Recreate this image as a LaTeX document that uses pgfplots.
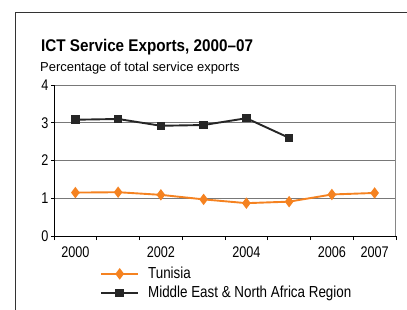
\documentclass[border=0pt]{standalone}
\usepackage{pgfplots}
\pgfplotsset{compat=1.18}
\usepackage{fontspec}
\setmainfont{Liberation Sans}
\newfontfamily\titlefont{Liberation Sans}[FakeStretch=0.9,Ligatures=TeX]
\newfontfamily\tickfont{Liberation Sans}[FakeStretch=0.82]
\newfontfamily\legfont{Liberation Sans}[FakeStretch=0.84]
\definecolor{tunorange}{RGB}{245,130,32}
\definecolor{gridgray}{RGB}{120,120,120}
\begin{document}
\begin{tikzpicture}[x=1bp,y=1bp]
\useasboundingbox (0,0) rectangle (407,310);
\draw[black!80, line width=0.8bp] (15,-5) -- (15,298) -- (412,298);
\node[anchor=base west, font=\titlefont\fontsize{17}{19}\selectfont\bfseries, inner sep=0pt] at (41,259) {ICT Service Exports, 2000–07};
\node[anchor=base west, font=\fontsize{13}{15}\selectfont, inner sep=0pt] at (40,239) {Percentage of total service exports};
\begin{axis}[
  at={(54bp,74bp)}, anchor=south west,
  scale only axis, width=342bp, height=151bp,
  xmin=-0.5, xmax=7.5, ymin=0, ymax=4,
  axis lines*=left,
  axis line style={black, line width=0.8bp},
  xtick={0,2,4,6,7}, xticklabels={2000,2002,2004,2006,2007},
  major x tick style={draw=none},
  minor xtick={-0.5,0.5,...,7.5},
  minor x tick style={black, line width=0.6bp},
  ytick={0,1,2,3,4},
  major y tick style={black, line width=0.6bp},
  tick align=outside,
  major tick length=3bp, minor tick length=4bp,
  ymajorgrids, grid style={gridgray, line width=0.8bp},
  /pgf/number format/assume math mode=true,
  tick label style={font=\tickfont\fontsize{15.5}{17}\selectfont},
  xticklabel style={yshift=-4bp},
  yticklabel style={xshift=1bp},
  legend style={draw=none, fill=none, at={(axis description cs:0.1345,-0.193)}, anchor=north west,
    font=\legfont\fontsize{16}{18}\selectfont, row sep=2bp, inner sep=0pt},
  legend cell align=left,
  legend image code/.code={\draw[line width=2bp, mark repeat=2,mark phase=2] plot coordinates {(0bp,0bp)(18.5bp,0bp)(37bp,0bp)};\path (44bp,0bp);},
]
\draw[gridgray!90, line width=1bp] (rel axis cs:1,0) -- (rel axis cs:1,1);
\addplot[tunorange, line width=1.9bp, mark=diamond*, mark size=4.2bp, mark options={solid}] coordinates {
(0,1.15) (1,1.16) (2,1.09) (3,0.97) (4,0.87) (5,0.91) (6,1.10) (7,1.14)};
\addlegendentry{Tunisia}
\addplot[black!85, line width=1.9bp, mark=square*, mark size=3.3bp, mark options={solid}] coordinates {
(0,3.08) (1,3.10) (2,2.92) (3,2.94) (4,3.12) (5,2.60)};
\addlegendentry{Middle East \& North Africa Region}
\end{axis}
\end{tikzpicture}
\end{document}
